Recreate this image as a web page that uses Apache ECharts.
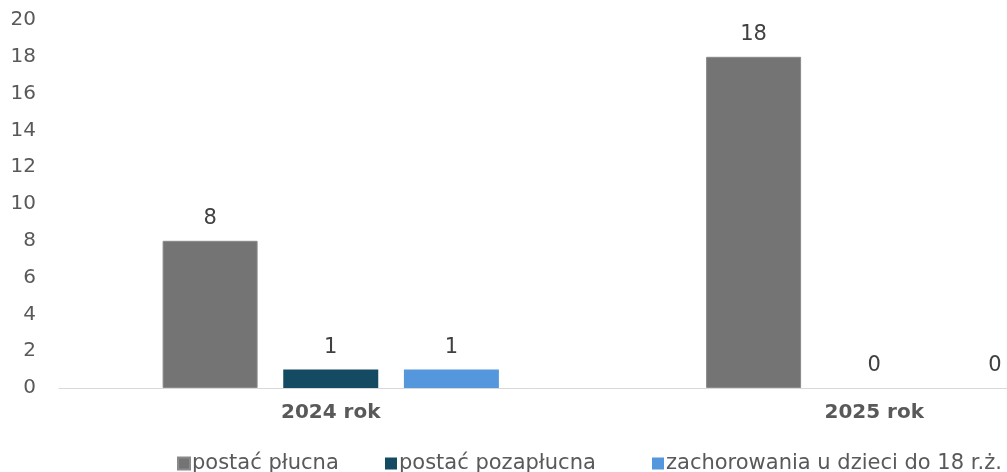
<!DOCTYPE html>
<html><head><meta charset="utf-8">
<script src="https://cdn.jsdelivr.net/npm/echarts@6/dist/echarts.min.js"></script>
<style>html,body{margin:0;padding:0;background:#fff}#c{width:1007px;height:472px}</style>
</head><body><div id="c"></div>
<script>
const categories = ['2024 rok', '2025 rok'];
const seriesNames = ['postać płucna', 'postać pozapłucna', 'zachorowania u dzieci do 18 r.ż.'];
const plucna = [8, 18];
const pozaplucna = [1, 0];
const dzieci = [1, 0];
const yTicks = [0, 2, 4, 6, 8, 10, 12, 14, 16, 18, 20];

const colors = ['#747474', '#144a62', '#5597dd'];
const legendLeft = [177, 385, 652];
const font = 'DejaVu Sans, sans-serif';
const lbl = {show: true, position: 'top', distance: 12, color: '#404040', fontSize: 21, fontFamily: font};
function mk(name, data, i) {
  return {name, type: 'bar', data, barWidth: 95, barGap: '27%',
    itemStyle: {color: colors[i], borderColor: i === 0 ? '#8a8a8a' : colors[i], borderWidth: i === 0 ? 1 : 0},
    label: lbl};
}
const chart = echarts.init(document.getElementById('c'), null, {renderer: 'canvas'});
chart.setOption({
  animation: false,
  color: colors,
  grid: {left: 59, width: 1087, top: 20, bottom: 84, containLabel: false, outerBoundsMode: 'none'},
  xAxis: {type: 'category', data: categories,
    axisLine: {lineStyle: {color: '#d9d9d9', width: 1}}, axisTick: {show: false},
    axisLabel: {color: '#595959', fontSize: 20, fontWeight: 'bold', fontFamily: font, margin: 15}},
  yAxis: {type: 'value', min: yTicks[0], max: yTicks[yTicks.length - 1], interval: 2,
    splitLine: {show: false}, axisLine: {show: false}, axisTick: {show: false},
    axisLabel: {color: '#595959', fontSize: 20, fontFamily: font, margin: 23}},
  legend: seriesNames.map((n, i) => ({data: [n], left: legendLeft[i], top: 453, padding: 0,
    itemWidth: 12, itemHeight: 12, icon: 'rect',
    textStyle: {color: '#595959', fontSize: 21, fontFamily: font, padding: [0, 0, 0, -3]}})),
  series: [mk(seriesNames[0], plucna, 0), mk(seriesNames[1], pozaplucna, 1), mk(seriesNames[2], dzieci, 2)]
});
</script></body></html>
